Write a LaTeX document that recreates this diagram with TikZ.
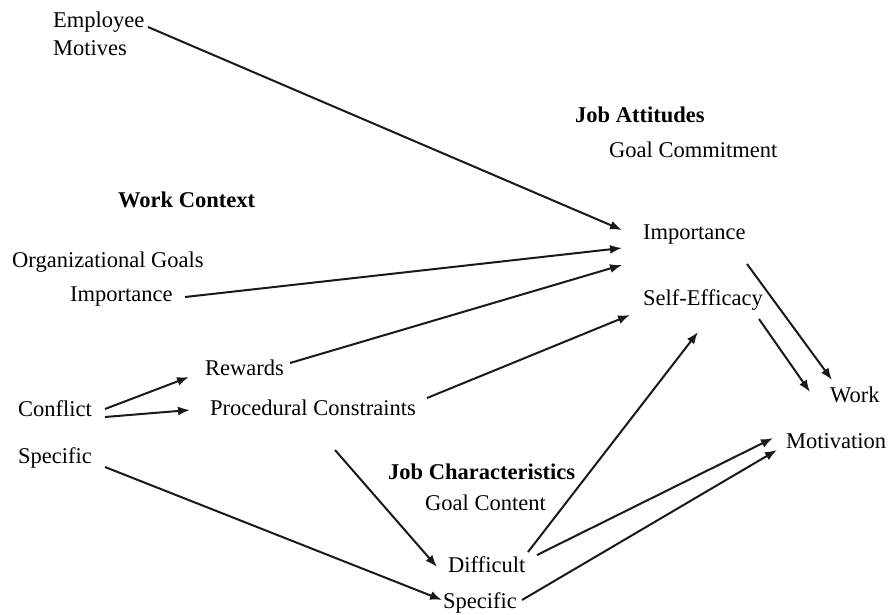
\documentclass[tikz,border=0pt]{standalone}
\usepackage{fontspec}
\setmainfont{Liberation Serif}
\usetikzlibrary{arrows.meta}
\begin{document}
\begin{tikzpicture}[x=1pt,y=-1pt,
  lbl/.style={anchor=west,inner sep=0pt,font=\fontsize{22.5}{26}\selectfont,text=black},
  hdr/.style={lbl,font=\fontsize{22.5}{26}\selectfont\bfseries},
  arr/.style={draw=black!90,line width=2pt,-{Latex[length=12pt,width=9pt]}}]
\useasboundingbox (0,0) rectangle (888,614);
\node[lbl] (emp1) at (53,22) {Employee};
\node[lbl] (emp2) at (53,48) {Motives};
\node[hdr] (jobatt) at (575,115) {Job Attitudes};
\node[lbl] (goalcom) at (609,150) {Goal Commitment};
\node[hdr] (workctx) at (118,200) {Work Context};
\node[lbl] (impR) at (643,235) {Importance};
\node[lbl] (orggoals) at (12,262) {Organizational Goals};
\node[lbl] (impL) at (70,297) {Importance};
\node[lbl] (selfeff) at (643,300) {Self-Efficacy};
\node[lbl] (rewards) at (205,368) {Rewards};
\node[lbl] (conflict) at (18,409) {Conflict};
\node[lbl] (proc) at (210,408) {Procedural Constraints};
\node[lbl] (work) at (830,395) {Work};
\node[lbl] (motiv) at (786,441) {Motivation};
\node[lbl] (specL) at (18,458) {Specific};
\node[hdr] (jobchar) at (388,472) {Job Characteristics};
\node[lbl] (goalcont) at (425,503) {Goal Content};
\node[lbl] (diff) at (448,565) {Difficult};
\node[lbl] (specB) at (443,603) {Specific};

\draw[arr] ([shift={(95,5)}]emp1.west) -- ([shift={(-21,-5)}]impR.west);
\draw[arr] ([shift={(115,0)}]impL.west) -- ([shift={(-21,13)}]impR.west);
\draw[arr] ([shift={(85,-5)}]rewards.west) -- ([shift={(-21,30)}]impR.west);
\draw[arr] ([shift={(217,-10)}]proc.west) -- ([shift={(-13,15)}]selfeff.west);
\draw[arr] ([shift={(87,0)}]conflict.west) -- ([shift={(-16,9)}]rewards.west);
\draw[arr] ([shift={(87,8)}]conflict.west) -- ([shift={(-20,2)}]proc.west);
\draw[arr] ([shift={(125,42)}]proc.west) -- ([shift={(-11,2)}]diff.west);
\draw[arr] ([shift={(87,9)}]specL.west) -- ([shift={(-1,-3)}]specB.west);
\draw[arr] ([shift={(80,-13)}]diff.west) -- ([shift={(55,32)}]selfeff.west);
\draw[arr] ([shift={(89,-10)}]diff.west) -- ([shift={(-13,-3)}]motiv.west);
\draw[arr] ([shift={(79,-3)}]specB.west) -- ([shift={(-9,9)}]motiv.west);
\draw[arr] ([shift={(104,29)}]impR.west) -- ([shift={(2,-15)}]work.west);
\draw[arr] ([shift={(116,19)}]selfeff.west) -- ([shift={(-20,-3)}]work.west);
\end{tikzpicture}
\end{document}
